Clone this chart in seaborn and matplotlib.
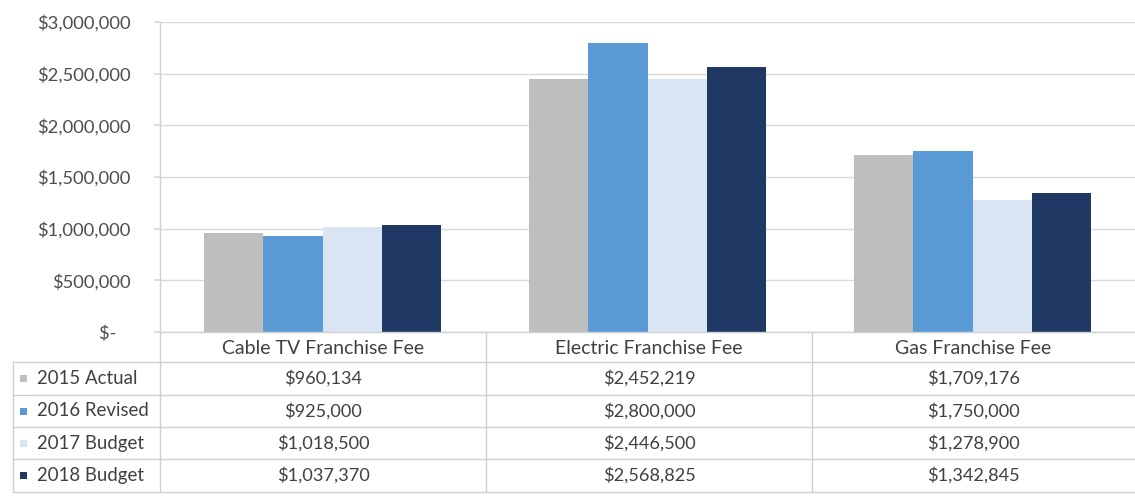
import matplotlib
matplotlib.use("Agg")
import matplotlib.pyplot as plt
from matplotlib.lines import Line2D
from matplotlib.patches import Rectangle
from matplotlib.ticker import FuncFormatter
import pandas as pd
import seaborn as sns

# Franchise fee revenue by source and year
categories = ["Cable TV Franchise Fee", "Electric Franchise Fee", "Gas Franchise Fee"]
series_names = ["2015 Actual", "2016 Revised", "2017 Budget", "2018 Budget"]
actual_2015 = [960134, 2452219, 1709176]
revised_2016 = [925000, 2800000, 1750000]
budget_2017 = [1018500, 2446500, 1278900]
budget_2018 = [1037370, 2568825, 1342845]
y_ticks = [0, 500000, 1000000, 1500000, 2000000, 2500000, 3000000]

series_values = [actual_2015, revised_2016, budget_2017, budget_2018]
colors = ["#BEBEBE", "#5B9BD5", "#DAE5F3", "#1F3864"]

rows = []
for name, vals in zip(series_names, series_values):
    for cat, v in zip(categories, vals):
        rows.append({"category": cat, "series": name, "value": v})
df = pd.DataFrame(rows)

sns.set_theme(style="white")
plt.rcParams["font.family"] = ["Lato", "DejaVu Sans"]
plt.rcParams["ytick.major.pad"] = 18
plt.rcParams["ytick.major.size"] = 4

W, H = 1135, 496
fig = plt.figure(figsize=(W / 100, H / 100), dpi=100)

# pixel layout helpers (origin top-left)
def fx(px):
    return px / W

def fy(py):
    return 1 - py / H

ax_left, ax_right, ax_top, ax_bottom = 160, 1135, 22, 332
ax = fig.add_axes([fx(ax_left), fy(ax_bottom), fx(ax_right - ax_left), (ax_bottom - ax_top) / H])

sns.barplot(data=df, x="category", y="value", hue="series", order=categories,
            hue_order=series_names, palette=colors, width=0.73, gap=0,
            saturation=1, ax=ax, legend=False, linewidth=0)

ax.set_xlim(-0.5, len(categories) - 0.5)
ax.set_ylim(0, 3000000)
ax.set_yticks(y_ticks)

def money(v, _pos=None):
    if v == 0:
        return "$-   "
    return "${:,.0f}".format(v)

ax.yaxis.set_major_formatter(FuncFormatter(money))
ax.tick_params(axis="y", labelsize=13.2, labelcolor="#4D4D4D", length=4,
               color="#D9D9D9", pad=17, left=True)
ax.tick_params(axis="x", bottom=False, labelbottom=False)
ax.set_xlabel("")
ax.set_ylabel("")
ax.grid(axis="y", color="#D9D9D9", linewidth=1)
ax.set_axisbelow(True)
for side in ["top", "right", "bottom"]:
    ax.spines[side].set_visible(False)
ax.spines["left"].set_color("#D0D0D0")
ax.spines["left"].set_linewidth(1)

# data table beneath the plot
line_kw = dict(color="#D0D0D0", linewidth=1, transform=fig.transFigure)
col_edges = [13, 160, 486, 812, 1135]
row_edges = [332, 362, 395, 427, 459, 492]

for y in row_edges[1:]:
    fig.add_artist(Line2D([fx(13), fx(1135)], [fy(y), fy(y)], **line_kw))
fig.add_artist(Line2D([fx(160), fx(1135)], [fy(332), fy(332)], **line_kw))
fig.add_artist(Line2D([fx(13), fx(13)], [fy(362), fy(492)], **line_kw))
for x in col_edges[1:4]:
    fig.add_artist(Line2D([fx(x), fx(x)], [fy(332), fy(492)], **line_kw))

text_kw = dict(color="#404040", ha="center", va="center", transform=fig.transFigure)
for i, cat in enumerate(categories):
    cx = (col_edges[i + 1] + col_edges[i + 2]) / 2
    fig.text(fx(cx), fy((row_edges[0] + row_edges[1]) / 2 + 1), cat, fontsize=14, **text_kw)

for r, (name, vals, color) in enumerate(zip(series_names, series_values, colors)):
    cy = (row_edges[r + 1] + row_edges[r + 2]) / 2
    fig.add_artist(Rectangle((fx(20), fy(cy + 3.5)), fx(7), 7 / H, facecolor=color,
                             edgecolor="none", transform=fig.transFigure))
    fig.text(fx(37), fy(cy), name, fontsize=13.4, color="#404040", ha="left",
             va="center", transform=fig.transFigure)
    for i, v in enumerate(vals):
        cx = (col_edges[i + 1] + col_edges[i + 2]) / 2
        fig.text(fx(cx), fy(cy), "${:,.0f}".format(v), fontsize=13.1, **text_kw)

fig.savefig("out.png", dpi=100, facecolor="white")
